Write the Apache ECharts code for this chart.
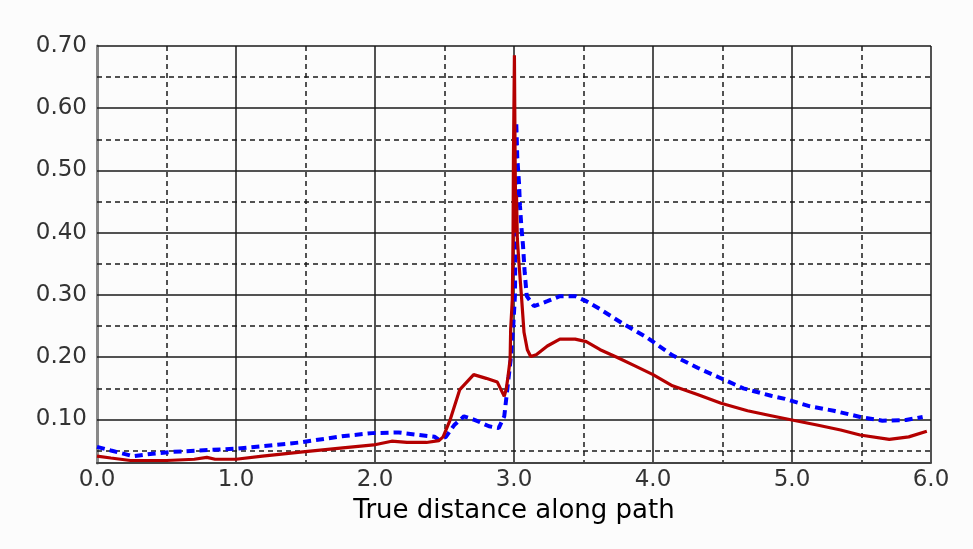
<!DOCTYPE html>
<html>
<head>
<meta charset="utf-8">
<script src="https://cdn.jsdelivr.net/npm/echarts@6/dist/echarts.min.js"></script>
<style>
html,body{margin:0;padding:0;background:#fcfcfc;}
#chart{width:973px;height:549px;}
</style>
</head>
<body>
<div id="chart"></div>
<script>
// Tick values
var xTicks = [0, 1, 2, 3, 4, 5, 6];
var yMajorTicks = [0.10, 0.20, 0.30, 0.40, 0.50, 0.60, 0.70];
var yMinorTicks = [0.05, 0.15, 0.25, 0.35, 0.45, 0.55, 0.65];

// Red solid series
var redX = [0.00,0.10,0.24,0.50,0.70,0.79,0.85,1.00,1.19,1.48,1.75,1.99,2.12,2.23,2.37,2.46,2.49,2.54,2.61,2.71,2.80,2.88,2.93,2.945,2.957,2.972,2.976,2.988,2.993,2.996,3.003,3.008,3.013,3.018,3.024,3.036,3.053,3.072,3.096,3.12,3.16,3.24,3.33,3.44,3.52,3.62,3.74,3.87,4.00,4.14,4.32,4.49,4.68,4.85,5.00,5.18,5.35,5.49,5.70,5.84,5.97];
var redY = [0.041,0.038,0.034,0.034,0.036,0.039,0.036,0.036,0.041,0.048,0.054,0.059,0.065,0.063,0.063,0.066,0.072,0.099,0.148,0.172,0.166,0.160,0.137,0.150,0.169,0.196,0.245,0.293,0.39,0.52,0.685,0.52,0.40,0.46,0.39,0.35,0.30,0.24,0.212,0.201,0.204,0.218,0.229,0.229,0.225,0.212,0.200,0.186,0.172,0.154,0.140,0.126,0.114,0.106,0.099,0.091,0.083,0.075,0.068,0.072,0.081];

// Blue dashed series
var blueX = [0.00,0.10,0.26,0.40,0.55,1.00,1.46,1.78,1.98,2.17,2.32,2.43,2.46,2.51,2.57,2.64,2.72,2.82,2.89,2.93,2.957,2.976,2.996,3.007,3.012,3.016,3.024,3.036,3.043,3.053,3.065,3.077,3.092,3.144,3.24,3.33,3.44,3.52,3.62,3.79,3.96,4.14,4.32,4.48,4.65,4.85,4.95,5.13,5.30,5.49,5.65,5.82,5.94];
var blueY = [0.056,0.050,0.041,0.045,0.048,0.053,0.063,0.0735,0.078,0.079,0.075,0.072,0.067,0.072,0.091,0.105,0.099,0.089,0.086,0.105,0.159,0.196,0.256,0.30,0.45,0.578,0.519,0.48,0.443,0.41,0.379,0.336,0.298,0.282,0.290,0.298,0.298,0.290,0.277,0.253,0.231,0.203,0.183,0.167,0.150,0.138,0.133,0.121,0.114,0.104,0.098,0.099,0.104];

function pairs(xs, ys){ return xs.map(function(x,i){ return [x, ys[i]]; }); }

var FONT = 'DejaVu Sans';
var GRID_COLOR = '#1a1a1a';

var gridLines = [];
yMajorTicks.forEach(function(v){
  gridLines.push({yAxis: v, lineStyle:{type:'solid', color:GRID_COLOR, width:1.5},
    label:{show:true, position:'start', distance:10, formatter: v.toFixed(2), color:'#333', fontSize:23, fontFamily:FONT}});
});
yMinorTicks.forEach(function(v){
  gridLines.push({yAxis: v, lineStyle:{type:[5,4], color:GRID_COLOR, width:1.5}, label:{show:false}});
});

var chart = echarts.init(document.getElementById('chart'));
chart.setOption({
  animation: false,
  backgroundColor: '#fcfcfc',
  grid: {left: 97, right: 42, top: 46, bottom: 86},
  xAxis: {
    type: 'value', min: xTicks[0], max: xTicks[xTicks.length-1], interval: 1,
    name: 'True distance along path', nameLocation: 'middle', nameGap: 35,
    nameTextStyle: {fontSize: 26, color: '#000', fontFamily: FONT},
    axisLine: {show: true, lineStyle: {color: '#444', width: 2}},
    axisTick: {show: false},
    axisLabel: {fontSize: 23, color: '#333', fontFamily: FONT, margin: 6,
      formatter: function(v){ return v.toFixed(1); }},
    splitLine: {show: true, lineStyle: {color: GRID_COLOR, width: 1.5, type: 'solid'}},
    minorTick: {show: false, splitNumber: 2},
    minorSplitLine: {show: true, lineStyle: {color: GRID_COLOR, width: 1.5, type: [5,4]}}
  },
  yAxis: [{
    type: 'value', min: 0.03, max: 0.70,
    axisLine: {show: true, onZero: false, lineStyle: {color: '#444', width: 2}},
    axisTick: {show: false},
    axisLabel: {show: false},
    splitLine: {show: false}
  }, {
    type: 'value', min: 0.03, max: 0.70, position: 'right', offset: 2,
    axisLine: {show: true, lineStyle: {color: '#888', width: 3}},
    axisTick: {show: false},
    axisLabel: {show: false},
    splitLine: {show: false}
  }],
  series: [{
    type: 'line',
    name: 'blue',
    data: pairs(blueX, blueY),
    showSymbol: false,
    symbol: 'none',
    z: 3,
    lineStyle: {color: '#0000ff', width: 4, type: [8,5]},
    markLine: {
      silent: true, z: 1, symbol: ['none','none'], animation: false,
      data: gridLines
    }
  }, {
    type: 'line',
    name: 'red',
    data: pairs(redX, redY),
    showSymbol: false,
    symbol: 'none',
    z: 4,
    lineStyle: {color: '#b40000', width: 3.2}
  }]
});
</script>
</body>
</html>
